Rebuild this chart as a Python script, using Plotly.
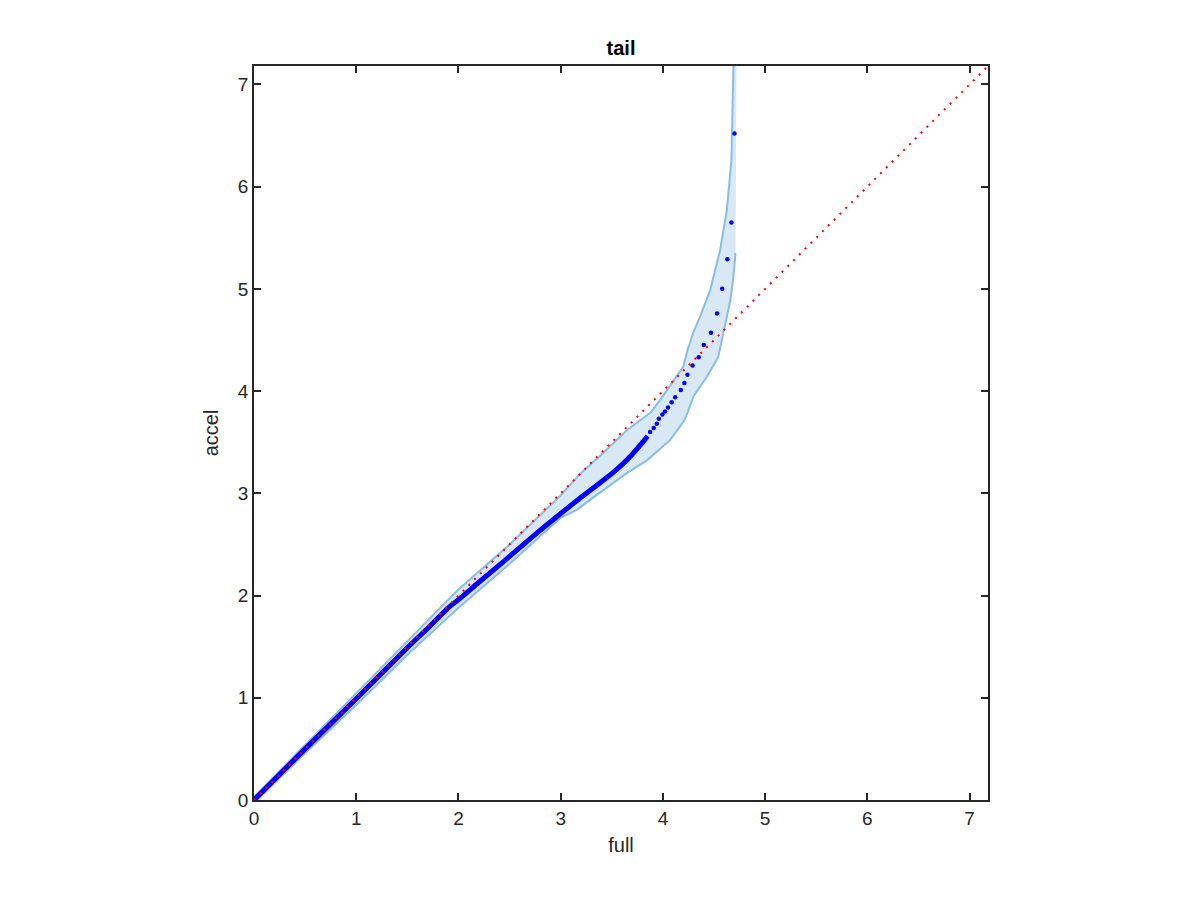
import plotly.graph_objects as go

# Dense part of the Q-Q curve (full quantiles vs accel quantiles)
dense_x = [0.0, 0.5, 1.0, 1.5, 1.7, 1.9, 2.0, 2.2, 2.45, 2.66, 2.85, 3.06, 3.16, 3.29, 3.42, 3.52, 3.6, 3.68, 3.75, 3.82, 3.85]
dense_y = [0.0, 0.5, 0.99, 1.49, 1.68, 1.88, 1.96, 2.13, 2.34, 2.52, 2.68, 2.85, 2.93, 3.03, 3.13, 3.21, 3.28, 3.36, 3.44, 3.52, 3.56]

# Sparse tail points
tail_x = [3.875, 3.91, 3.94, 3.96, 3.995, 4.02, 4.05, 4.085, 4.12, 4.175, 4.21, 4.24, 4.29, 4.35, 4.40, 4.47, 4.53, 4.58, 4.63, 4.67, 4.70]
tail_y = [3.60, 3.64, 3.68, 3.73, 3.77, 3.80, 3.84, 3.89, 3.94, 4.01, 4.08, 4.16, 4.25, 4.33, 4.45, 4.57, 4.76, 5.00, 5.29, 5.65, 6.52]

# Confidence band edges
upper_x = [0.0, 0.5, 1.0, 1.5, 2.0, 2.5, 3.0, 3.19, 3.42, 3.65, 3.88, 3.97, 4.10, 4.20, 4.24, 4.30, 4.36, 4.46, 4.56, 4.625, 4.67, 4.69]
upper_y = [0.03, 0.54, 1.05, 1.56, 2.06, 2.50, 2.98, 3.19, 3.40, 3.62, 3.79, 3.91, 4.10, 4.24, 4.40, 4.58, 4.72, 4.98, 5.38, 5.77, 6.26, 7.18]
lower_x = [0.0, 0.5, 1.0, 1.5, 2.0, 2.5, 3.0, 3.16, 3.32, 3.48, 3.65, 3.84, 4.07, 4.20, 4.23, 4.30, 4.43, 4.54, 4.59, 4.66, 4.69, 4.71]
lower_y = [-0.03, 0.46, 0.93, 1.42, 1.88, 2.31, 2.76, 2.84, 2.96, 3.08, 3.20, 3.32, 3.52, 3.70, 3.76, 3.95, 4.14, 4.33, 4.56, 4.89, 5.12, 5.35]
band_top_x = [4.72]
band_top_y = [7.18]

# Reference line y = x
ref_line = [0.0, 7.2]

tick_vals = [0, 1, 2, 3, 4, 5, 6, 7]
tick_text = ["0", "1", "2", "3", "4", "5", "6", "7"]
axis_range = [0, 7.18]

FONT = "Liberation Sans, Arial, Helvetica, sans-serif"
EDGE = "rgb(137,190,226)"
FILL = "rgb(216,232,244)"
AXC = "#262626"

fig = go.Figure()

# band fill polygon
poly_x = lower_x + band_top_x + upper_x[::-1]
poly_y = lower_y + band_top_y + upper_y[::-1]
fig.add_trace(go.Scatter(x=poly_x, y=poly_y, mode="lines", fill="toself",
                         fillcolor=FILL, line=dict(width=0), hoverinfo="skip",
                         showlegend=False))
fig.add_trace(go.Scatter(x=upper_x, y=upper_y, mode="lines",
                         line=dict(color=EDGE, width=2), showlegend=False))
fig.add_trace(go.Scatter(x=lower_x, y=lower_y, mode="lines",
                         line=dict(color=EDGE, width=2), showlegend=False))

# dense curve
fig.add_trace(go.Scatter(x=dense_x, y=dense_y, mode="lines",
                         line=dict(color="rgb(0,0,255)", width=5, shape="spline", smoothing=0.6),
                         showlegend=False))
# tail points
fig.add_trace(go.Scatter(x=tail_x, y=tail_y, mode="markers",
                         marker=dict(color="rgb(0,0,255)", size=4.5, line=dict(width=0)),
                         showlegend=False))
# reference line
fig.add_trace(go.Scatter(x=ref_line, y=ref_line, mode="lines",
                         line=dict(color="rgb(255,0,0)", width=2, dash="2px,6.2px"),
                         showlegend=False))

axis_common = dict(
    range=axis_range, tickvals=tick_vals, ticktext=tick_text,
    showgrid=False, zeroline=False, showline=True, linecolor=AXC, linewidth=1.5,
    mirror="ticks", ticks="inside", ticklen=7, tickwidth=1.5, tickcolor=AXC,
    tickfont=dict(family=FONT, size=19, color=AXC),
)

fig.update_layout(
    width=1200, height=900,
    margin=dict(l=246, r=220, t=58, b=108),
    plot_bgcolor="white", paper_bgcolor="white",
    title=dict(text="<b>tail</b>", x=(246 + 980) / 2 / 1200, xanchor="center",
               y=1 - 40 / 900, yanchor="middle", yref="container",
               font=dict(family=FONT, size=20, color="black")),
    xaxis=dict(**axis_common,
               title=dict(text="full", font=dict(family=FONT, size=20, color=AXC), standoff=10)),
    yaxis=dict(**axis_common,
               title=dict(text="accel", font=dict(family=FONT, size=20, color=AXC), standoff=14)),
)

fig.write_html("out.html")
